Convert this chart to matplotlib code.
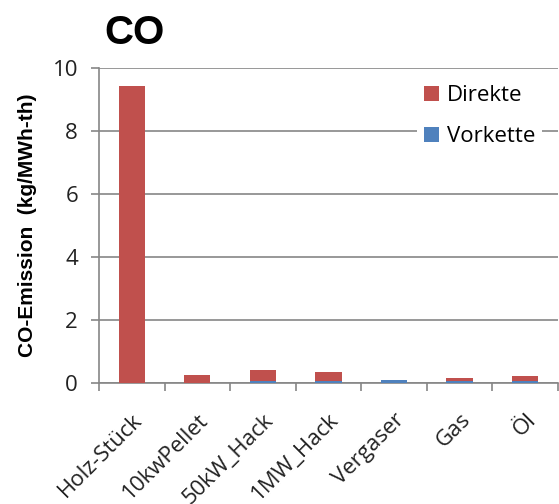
import matplotlib.pyplot as plt
import numpy as np

categories = ['Holz-Stück', '10kwPellet', '50kW_Hack', '1MW_Hack', 'Vergaser', 'Gas', 'Öl']
vorkette = [0.0, 0.0, 0.07, 0.07, 0.085, 0.08, 0.08]
direkte = [9.43, 0.27, 0.33, 0.27, 0.0, 0.07, 0.13]
yticks = [0, 2, 4, 6, 8, 10]

red = '#C0504D'
blue = '#4F81BD'
grey = '#868686'

fig = plt.figure(figsize=(5.59, 5.04), dpi=100)
ax = fig.add_axes([0.177, 0.240, 0.821, 0.625])

x = np.arange(len(categories))
ax.bar(x, vorkette, width=0.4, color=blue, label='Vorkette', zorder=3)
ax.bar(x, direkte, width=0.4, bottom=vorkette, color=red, label='Direkte', zorder=3)

ax.set_xlim(-0.5, len(categories) - 0.5)
ax.set_ylim(0, 10)
ax.set_yticks(yticks)
ax.set_yticklabels([str(t) for t in yticks], fontsize=16, family='Open Sans', color='#222222')
ax.yaxis.grid(True, color=grey, linewidth=1.2, zorder=0)
ax.set_axisbelow(True)

# ticks sit between categories, labels at the centres
ax.set_xticks(np.arange(-0.5, len(categories), 1.0))
ax.set_xticklabels([])
ax.set_xticks(x, minor=True)
ax.set_xticklabels(categories, minor=True, rotation=45, ha='right', rotation_mode='anchor',
                   fontsize=16, family='Open Sans', color='#222222')
ax.tick_params(axis='x', which='minor', length=0, pad=19)
ax.tick_params(axis='x', which='major', length=6, color=grey, width=1.2)
ax.tick_params(axis='y', length=6, color=grey, width=1.2, pad=9)

for s in ['top', 'right']:
    ax.spines[s].set_visible(False)
for s in ['left', 'bottom']:
    ax.spines[s].set_color(grey)
    ax.spines[s].set_linewidth(1.2)

ax.set_ylabel('CO-Emission  (kg/MWh-th)', fontsize=15, fontweight='bold',
              family='Liberation Sans', labelpad=11)
fig.text(0.187, 0.935, 'CO', fontsize=29, fontweight='bold', family='Liberation Sans',
         ha='left', va='center')

handles, labels = ax.get_legend_handles_labels()
leg = ax.legend(handles[::-1], labels[::-1], loc='upper right', bbox_to_anchor=(0.975, 0.98),
                frameon=True, fancybox=False, edgecolor='none', facecolor='white', framealpha=1,
                prop={'family': 'Open Sans', 'size': 16}, handlelength=0.7, handleheight=0.7,
                handletextpad=0.35, labelspacing=0.9, borderpad=0.3, borderaxespad=0.2)
leg.set_zorder(5)

fig.savefig('out.png', dpi=100)
